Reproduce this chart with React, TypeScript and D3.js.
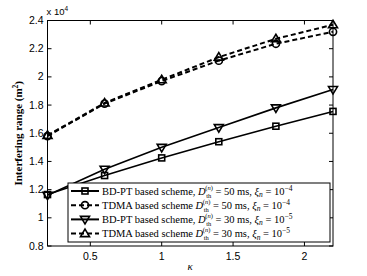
import React from 'react'
import * as d3 from 'd3'

// kappa values (x) and interfering range in units of 10^4 m^2
const kappa = [0.2, 0.6, 1.0, 1.4, 1.8, 2.2]
const bdpt50 = [1.165, 1.30, 1.425, 1.54, 1.65, 1.755]
const tdma50 = [1.58, 1.81, 1.97, 2.115, 2.235, 2.32]
const bdpt30 = [1.16, 1.345, 1.50, 1.64, 1.78, 1.91]
const tdma30 = [1.585, 1.815, 1.98, 2.14, 2.27, 2.37]

const xTicks = [0.5, 1, 1.5, 2]
const yTicks = [0.8, 1, 1.2, 1.4, 1.6, 1.8, 2, 2.2, 2.4]

const seriesNames = ['BD-PT based scheme,', 'TDMA based scheme', 'BD-PT based scheme,', 'TDMA based scheme']
const delays = ['50', '50', '30', '30']
const exps = ['−4', '−4', '−5', '−5']

const W = 367, H = 276
const left = 47.5, right = 333, top = 20.5, bottom = 246

const serif = 'Liberation Serif, DejaVu Serif, serif'
const sans = 'Liberation Sans, Arial, sans-serif'

function Marker({ type, x, y }: { type: string; x: number; y: number }) {
  const st = { fill: 'none', stroke: '#000', strokeWidth: 1.6 }
  if (type === 'square') return <rect x={x - 3} y={y - 3} width={6} height={6} {...st} />
  if (type === 'circle') return <circle cx={x} cy={y} r={3.6} {...st} />
  if (type === 'down') return <path d={`M${x - 4.5},${y - 3} L${x + 4.5},${y - 3} L${x},${y + 4.5} Z`} {...st} />
  return <path d={`M${x - 4.5},${y + 3} L${x + 4.5},${y + 3} L${x},${y - 4.5} Z`} {...st} />
}

export default function App() {
  const x = d3.scaleLinear().domain([0.2, 2.2]).range([left, right])
  const y = d3.scaleLinear().domain([0.8, 2.4]).range([bottom, top])
  const line = d3.line<[number, number]>().x(d => x(d[0])).y(d => y(d[1]))

  const series = [
    { vals: bdpt50, marker: 'square', dash: null },
    { vals: tdma50, marker: 'circle', dash: '5,3' },
    { vals: bdpt30, marker: 'down', dash: null },
    { vals: tdma30, marker: 'up', dash: '5,3' },
  ]

  const legX = 68, legY = 183, legW = 262, legH = 59, rowH = 14.2

  return (
    <div style={{ position: 'fixed', left: 0, top: 0 }}>
      <svg width={W} height={H} style={{ display: 'block', background: '#fff' }}>
        {/* ticks */}
        {xTicks.map(t => (
          <g key={'x' + t}>
            <line x1={x(t)} x2={x(t)} y1={bottom} y2={bottom - 4} stroke="#000" />
            <line x1={x(t)} x2={x(t)} y1={top} y2={top + 4} stroke="#000" />
            <text x={x(t)} y={bottom + 14} textAnchor="middle" fontFamily={sans} fontSize={10.5}>{t}</text>
          </g>
        ))}
        {yTicks.map(t => (
          <g key={'y' + t}>
            <line x1={left} x2={left + 4} y1={y(t)} y2={y(t)} stroke="#000" />
            <line x1={right} x2={right - 4} y1={y(t)} y2={y(t)} stroke="#000" />
            <text x={left - 4} y={y(t) + 3.5} textAnchor="end" fontFamily={sans} fontSize={10.5}>{t}</text>
          </g>
        ))}
        <text x={left - 1} y={top - 6} fontFamily={sans} fontSize={9.5}>
          x 10<tspan dy={-4} fontSize={6.5}>4</tspan>
        </text>

        {/* series */}
        {series.map((s, i) => {
          const pts = kappa.map((k, j) => [k, s.vals[j]] as [number, number])
          return (
            <g key={i}>
              <path d={line(pts) || ''} fill="none" stroke="#000" strokeWidth={s.dash ? 2 : 1.6}
                strokeDasharray={s.dash || undefined} />
              {pts.map((p, j) => <Marker key={j} type={s.marker} x={x(p[0])} y={y(p[1])} />)}
            </g>
          )
        })}

        {/* frame */}
        <rect x={left} y={top} width={right - left} height={bottom - top} fill="none" stroke="#000" strokeWidth={1} />

        {/* legend */}
        <rect x={legX} y={legY} width={legW} height={legH} fill="#fff" stroke="#000" strokeWidth={1} />
        {series.map((s, i) => {
          const ry = legY + 8 + i * rowH
          return (
            <g key={'l' + i}>
              <line x1={legX + 3} x2={legX + 31} y1={ry} y2={ry} stroke="#000" strokeWidth={2}
                strokeDasharray={s.dash || undefined} />
              <Marker type={s.marker} x={legX + 17} y={ry} />
              <text x={legX + 34} y={ry + 3.5} fontFamily={serif} fontSize={10.5}>
                {seriesNames[i]} <tspan fontStyle="italic">D</tspan>
                <tspan dx={0.5} dy={3} fontSize={6.5}>th</tspan>
                <tspan dx={-6} dy={-8} fontSize={6.5}>(<tspan fontStyle="italic">n</tspan>)</tspan>
                <tspan dy={5}> = {delays[i]} ms, </tspan>
                <tspan fontStyle="italic">ξ</tspan>
                <tspan dy={2.5} fontSize={7.5} fontStyle="italic">n</tspan>
                <tspan dy={-2.5}> = 10</tspan>
                <tspan dy={-4} fontSize={7.5}>{exps[i]}</tspan>
              </text>
            </g>
          )
        })}

        {/* axis labels */}
        <text x={x(1.2)} y={bottom + 24} textAnchor="middle" fontFamily={serif} fontStyle="italic" fontSize={11}>κ</text>
        <text transform={`translate(22,${(top + bottom) / 2}) rotate(-90)`} textAnchor="middle"
          fontFamily={serif} fontWeight="bold" fontSize={11}>
          Interfering range  (m<tspan dy={-4} fontSize={7.5}>2</tspan><tspan dy={4}>)</tspan>
        </text>
      </svg>
    </div>
  )
}
